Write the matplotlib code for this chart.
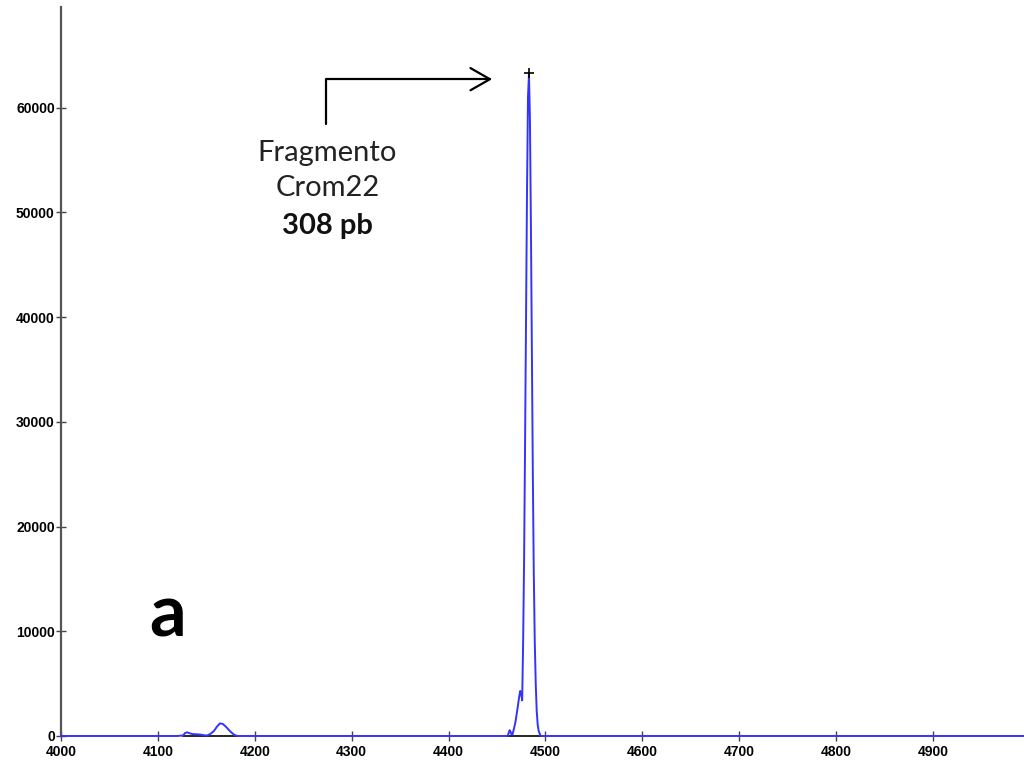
import matplotlib
matplotlib.use("Agg")
import matplotlib.pyplot as plt

# trace (scan number vs. signal)
scan = [4000, 4120, 4126, 4128, 4130, 4133, 4136, 4140, 4144, 4148, 4150, 4152,
        4155, 4158, 4161, 4164, 4167, 4170, 4173, 4176, 4179, 4182, 4190, 4455,
        4461, 4462, 4463, 4464, 4465, 4466, 4467, 4469, 4471, 4473, 4474, 4475,
        4476, 4477, 4478, 4479, 4480, 4481, 4482, 4483, 4484, 4485, 4486, 4487,
        4488, 4489, 4490, 4491, 4492, 4493, 4495, 4500, 5000]
signal = [0, 0, 50, 280, 350, 250, 180, 160, 130, 70, 40, 90,
          250, 500, 900, 1200, 1150, 900, 600, 320, 100, 0, 0, 0,
          0, 250, 550, 400, 150, 150, 500, 1300, 2500, 3800, 4300, 4000,
          3400, 9000, 17000, 28000, 40000, 52000, 61000, 63200, 59000, 49000, 37000, 25000,
          15500, 9000, 5000, 2400, 1100, 500, 0, 0, 0]

# baseline segments drawn under the called peaks
base_starts = [4126, 4459]
base_ends = [4183, 4499]

peak_scan = 4483
peak_signal = 63300

x_ticks = [4000, 4100, 4200, 4300, 4400, 4500, 4600, 4700, 4800, 4900]
y_ticks = [0, 10000, 20000, 30000, 40000, 50000, 60000]

label_lines = ["Fragmento", "Crom22", "308 pb"]
panel_letter = "a"

fig = plt.figure(figsize=(10.24, 7.6), dpi=100)
ax = fig.add_axes([0.0596, 0.0316, 0.9404, 0.959])

for s, e in zip(base_starts, base_ends):
    ax.plot([s, e], [0, 0], color="black", lw=1.2, zorder=2, clip_on=False)
ax.plot(scan, signal, color="#3333ff", lw=1.4, zorder=3, clip_on=False)
ax.plot([peak_scan], [peak_signal], marker="+", color="black", ms=7, mew=1.2, zorder=4)

ax.set_xlim(4000, 4994)
ax.set_ylim(0, 69600)
ax.set_xticks(x_ticks)
ax.set_yticks(y_ticks)
ax.tick_params(axis="both", direction="inout", length=7, width=1, color="#444444",
               labelsize=10)
ax.tick_params(axis="x", pad=3)
ax.tick_params(axis="y", pad=1)
for lab in ax.get_xticklabels() + ax.get_yticklabels():
    lab.set_fontweight("bold")
    lab.set_family("Liberation Sans")

for side in ["top", "right", "bottom"]:
    ax.spines[side].set_visible(False)
ax.spines["left"].set_color("#555555")
ax.spines["left"].set_linewidth(1.6)

# bent arrow pointing at the main peak
ax.annotate("", xy=(4445, 62720), xytext=(4273.5, 58400),
            arrowprops=dict(arrowstyle="->,head_length=0.7,head_width=0.4",
                            connectionstyle="angle,angleA=90,angleB=0,rad=0",
                            color="black", lw=1.6, mutation_scale=20,
                            shrinkA=0, shrinkB=0))

ax.text(4275, 54880, label_lines[0], ha="center", va="baseline", fontsize=21,
        family="Lato", color="#222222")
ax.text(4275, 51530, label_lines[1], ha="center", va="baseline", fontsize=21,
        family="Lato", color="#222222")
ax.text(4275, 47900, label_lines[2], ha="center", va="baseline", fontsize=21,
        family="Lato", fontweight="bold", color="#111111")

ax.text(4110, 9460, panel_letter, ha="center", va="baseline", fontsize=52,
        family="Lato", fontweight="bold", color="black")

fig.savefig("out.png", dpi=100)
